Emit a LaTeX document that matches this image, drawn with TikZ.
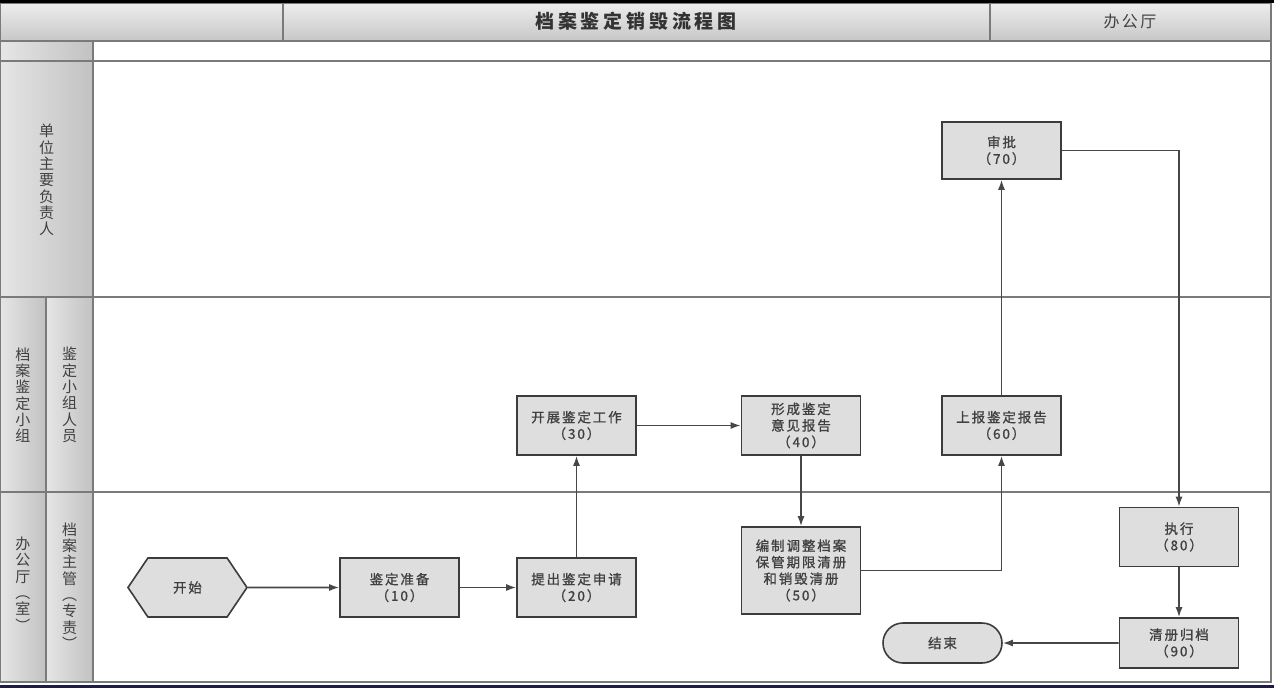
\documentclass[tikz,border=0pt]{standalone}
\usepackage{fontspec}
\setmainfont{Noto Sans CJK SC}
\newfontfamily\boxfont[LetterSpace=14,FakeBold=1]{Noto Sans CJK SC}
\newfontfamily\titlefont[LetterSpace=20]{Noto Sans CJK SC}
\newfontfamily\headfont[LetterSpace=15]{Noto Sans CJK SC}
\usetikzlibrary{shapes.symbols,shapes.misc,arrows.meta}
\definecolor{boxfill}{HTML}{DEDEDE}
\definecolor{boxline}{HTML}{3C3C3C}
\definecolor{txt}{HTML}{404040}
\definecolor{laneline}{HTML}{7A7A7A}
\definecolor{navy}{HTML}{1C1C44}
\begin{document}
\begin{tikzpicture}[x=1pt,y=-1pt,
  stepbox/.style={draw=boxline, line width=1.6pt, fill=boxfill, minimum width=119pt, minimum height=59pt, inner sep=0pt, align=center, font=\boxfont\fontsize{13.5}{16.5}\selectfont, text=txt},
  flow/.style={draw=black!72, line width=1.6pt, -{Latex[length=10pt,width=7pt]}},
  frame/.style={draw=laneline, line width=1.5pt},
  hcell/.style={frame, top color=black!7, bottom color=black!22},
  lcell/.style={frame, left color=black!10, right color=black!24},
  lanelabel/.style={inner sep=0pt, align=center, text=txt, font=\fontsize{15}{16.3}\selectfont}
]
\useasboundingbox (0,0) rectangle (1274,688);
\fill[white] (0,0) rectangle (1274,688);
% header row
\path[hcell] (0,3) rectangle (283,41);
\path[hcell] (283,3) rectangle (990,41);
\path[hcell] (990,3) rectangle (1271,41);
\draw[black, line width=2.2pt] (0,1.5) -- (1274,1.5);
\node[text=black!80, font=\titlefont\bfseries\fontsize{19}{22}\selectfont] (title) at (636,21) {档案鉴定销毁流程图};
\node[text=txt, font=\headfont\fontsize{16}{19}\selectfont] (dept) at (1130,21) {办公厅};
% second thin row
\path[lcell] (0,41) rectangle (93,61);
\path[frame] (93,41) rectangle (1271,61);
% lane header cells
\path[lcell] (0,61) rectangle (93,297);
\path[lcell] (0,297) rectangle (46,492);
\path[lcell] (46,297) rectangle (93,492);
\path[lcell] (0,492) rectangle (46,682);
\path[lcell] (46,492) rectangle (93,682);
% lane bodies
\path[frame] (93,61) rectangle (1271,297);
\path[frame] (93,297) rectangle (1271,492);
\path[frame] (93,492) rectangle (1271,682);
\draw[navy, line width=3pt] (0,686) -- (1274,686);
% lane labels
\node[lanelabel] (l1) at (46.5,180) {单\\位\\主\\要\\负\\责\\人};
\node[lanelabel] (l2a) at (23,395) {档\\案\\鉴\\定\\小\\组};
\node[lanelabel] (l2b) at (69.5,395) {鉴\\定\\小\\组\\人\\员};
\node[lanelabel] (l3a) at (23,584) {办\\公\\厅\\︵\\室\\︶};
\node[lanelabel] (l3b) at (69.5,586) {档\\案\\主\\管\\︵\\专\\责\\︶};
% nodes
\node[stepbox, shape=signal, signal to=west and east, signal pointer angle=112] (start) at (187.5,587.5) {开始};
\node[stepbox] (n10) at (399.5,587.5) {鉴定准备\\（10）};
\node[stepbox] (n20) at (576.5,587.5) {提出鉴定申请\\（20）};
\node[stepbox] (n30) at (576.5,425.5) {开展鉴定工作\\（30）};
\node[stepbox] (n40) at (801,425.5) {形成鉴定\\意见报告\\（40）};
\node[stepbox, minimum height=87pt] (n50) at (801,570.5) {编制调整档案\\保管期限清册\\和销毁清册\\（50）};
\node[stepbox] (n60) at (1001.5,425.5) {上报鉴定报告\\（60）};
\node[stepbox, minimum height=57pt] (n70) at (1001.5,150.5) {审批\\（70）};
\node[stepbox] (n80) at (1179,537) {执行\\（80）};
\node[stepbox, minimum height=50pt] (n90) at (1179,643) {清册归档\\（90）};
\node[stepbox, shape=rounded rectangle, minimum height=40pt] (end) at (942.5,643) {结束};
% connectors
\draw[flow] (start) -- (n10);
\draw[flow] (n10) -- (n20);
\draw[flow] (n20) -- (n30);
\draw[flow] (n30) -- (n40);
\draw[flow] (n40) -- (n50);
\draw[flow] (n50.east) -| (n60.south);
\draw[flow] (n60) -- (n70);
\draw[flow] (n70.east) -| (n80.north);
\draw[flow] (n80) -- (n90);
\draw[flow] (n90) -- (end);
\end{tikzpicture}
\end{document}
